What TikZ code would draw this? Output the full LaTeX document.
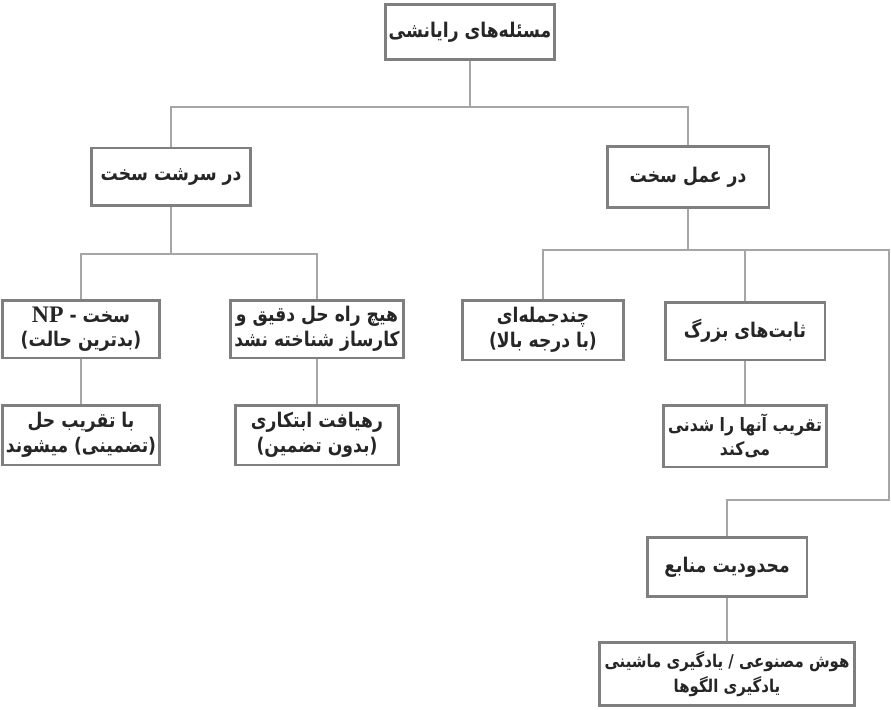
\documentclass[tikz,border=0pt]{standalone}
\usepackage{fontspec}
\newfontfamily\farsifont[Script=Arabic,FakeStretch=0.85]{DejaVu Sans}
\newfontfamily\latfont{Liberation Serif}
\TeXXeTstate=1
\newcommand{\fa}[1]{{\farsifont\bfseries\beginR #1\endR}}
\definecolor{boxgray}{HTML}{7F7F7F}
\definecolor{linkgray}{HTML}{A6A6A6}
\tikzset{
  box/.style={draw=boxgray, line width=1.7pt, fill=white, align=center,
    inner sep=2pt, text=black!85, font=\fontsize{11.5}{14}\selectfont},
  link/.style={draw=linkgray, line width=1.1pt}
}

\begin{document}
\begin{tikzpicture}[x=0.02cm,y=-0.02cm]
        \useasboundingbox (0,0) rectangle (891,709);
        % nodes
        \node[box, minimum width=3.3cm, minimum height=1.1cm] (root) at (470,32) {\fa{مسئله‌های رایانشی}};
        \node[box, minimum width=3.18cm, minimum height=1.16cm] (sarsht) at (171,177) {\fa{در سرشت سخت}};
        \node[box, minimum width=3.24cm, minimum height=1.22cm] (amal) at (688,177) {\fa{در عمل سخت}};
        \node[box, minimum width=3.16cm, minimum height=1.16cm] (np) at (81,329) {\fa{سخت - \beginL{\latfont\bfseries\fontsize{13.5}{14}\selectfont NP}\endL}\\ \fa{(بدترین حالت)}};
        \node[box, minimum width=3.38cm, minimum height=1.16cm] (heech) at (317,329) {\fa{هیچ راه حل دقیق و}\\ \fa{کارساز شناخته نشد}};
        \node[box, minimum width=3.22cm, minimum height=1.2cm] (chand) at (543,330) {\fa{چندجمله‌ای}\\ \fa{(با درجه بالا)}};
        \node[box, minimum width=3.2cm, minimum height=1.16cm] (sabet) at (745,331) {\fa{ثابت‌های بزرگ}};
        \node[box, minimum width=3.16cm, minimum height=1.2cm] (taqrib) at (81,435) {\fa{با تقریب حل}\\ \fa{(تضمینی) میشوند}};
        \node[box, minimum width=3.28cm, minimum height=1.2cm] (rahyaft) at (317,435) {\fa{رهیافت ابتکاری}\\ \fa{(بدون تضمین)}};
        \node[box, minimum width=3.26cm, minimum height=1.24cm, font=\fontsize{10.5}{14}\selectfont] (shodani) at (745,436) {\fa{تقریب آنها را شدنی}\\ \fa{می‌کند}};
        \node[box, minimum width=3.2cm, minimum height=1.18cm] (mahdud) at (727,567) {\fa{محدودیت منابع}};
        \node[box, minimum width=5.1cm, minimum height=1.26cm, font=\fontsize{10}{14}\selectfont] (hoosh) at (727,674) {\fa{هوش مصنوعی / یادگیری ماشینی}\\ \fa{یادگیری الگوها}};

        % connectors
        \coordinate (busA) at (470,107);
        \coordinate (busB) at (171,254);
        \coordinate (busC) at (688,250);
        \coordinate (edgeR) at (889,250);
        \coordinate (edgeS) at (889,500);
        \draw[link] (root.south) -- (busA) -| (sarsht.north);
        \draw[link] (busA) -| (amal.north);
        \draw[link] (sarsht.south) -- (busB) -| (np.north);
        \draw[link] (busB) -| (heech.north);
        \draw[link] (amal.south) -- (busC) -| (chand.north);
        \draw[link] (busC) -| (sabet.north);
        \draw[link] (busC) -- (edgeR) -- (edgeS) -| (mahdud.north);
        \draw[link] (np.south) -- (taqrib.north);
        \draw[link] (heech.south) -- (rahyaft.north);
        \draw[link] (sabet.south) -- (shodani.north);
        \draw[link] (mahdud.south) -- (hoosh.north);
      \end{tikzpicture}
\end{document}
